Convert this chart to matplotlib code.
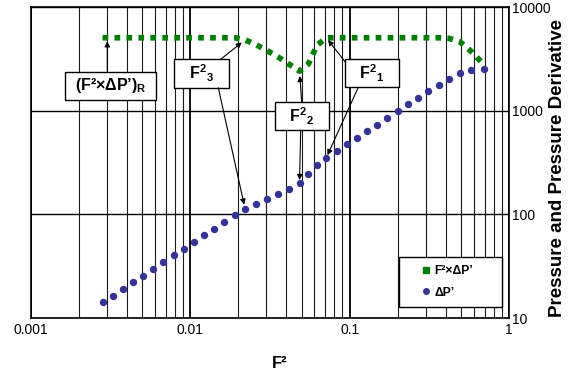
import matplotlib
matplotlib.use("Agg")
import matplotlib.pyplot as plt
from matplotlib.lines import Line2D
from matplotlib.patches import Rectangle
from matplotlib.ticker import LogLocator, FixedLocator, FixedFormatter, NullFormatter

plt.rcParams['font.family'] = ['Liberation Sans', 'DejaVu Sans']
plt.rcParams['mathtext.fontset'] = 'custom'
plt.rcParams['mathtext.rm'] = 'Liberation Sans:bold'
plt.rcParams['mathtext.it'] = 'Liberation Sans:bold'
plt.rcParams['mathtext.bf'] = 'Liberation Sans:bold'

# data
f2 = [0.00282, 0.00328, 0.00379, 0.00438, 0.00508, 0.00587, 0.00678, 0.00788,
      0.00910, 0.01056, 0.01222, 0.01417, 0.01637, 0.01901, 0.02206, 0.02576,
      0.03032, 0.03568, 0.04180, 0.04842, 0.05497, 0.06233, 0.07130, 0.08285,
      0.0961, 0.1111, 0.1285, 0.1491, 0.1722, 0.2000, 0.2321, 0.2693,
      0.3111, 0.3614, 0.4194, 0.4898, 0.5741, 0.6920]
dp = [14.2, 16.4, 19.1, 22.1, 25.6, 29.9, 34.7, 40.3,
      46.7, 54.2, 62.8, 72.8, 85.1, 98.7, 113.5, 126,
      141, 157, 177, 202, 247, 298, 353, 409,
      478, 550, 638, 734, 858, 988, 1155, 1330,
      1543, 1786, 2042, 2333, 2460, 2533]
f2dp = [5080, 5080, 5080, 5080, 5080, 5080, 5080, 5080,
        5080, 5080, 5080, 5080, 5080, 5080, 4850, 4370,
        3820, 3300, 2810, 2420, 2830, 4300, 5080, 5080,
        5080, 5080, 5080, 5080, 5080, 5080, 5080, 5080,
        5080, 5080, 5010, 4650, 3780, 2800]

xticks = [0.001, 0.01, 0.1, 1]
xtick_labels = ['0.001', '0.01', '0.1', '1']
yticks = [10, 100, 1000, 10000]
ytick_labels = ['10', '100', '1000', '10000']

green = '#008000'
blue = '#333399'

W, H = 574, 375
fig = plt.figure(figsize=(W / 100, H / 100), dpi=100)
L, R, T, B = 30.7, 509.3, 7.3, 318
ax = fig.add_axes([L / W, 1 - B / H, (R - L) / W, (B - T) / H])


def fp(px, py):
    # pixel (from top-left) -> figure fraction
    return (px / W, 1 - py / H)


ax.set_xscale('log')
ax.set_yscale('log')
ax.set_xlim(0.001, 1)
ax.set_ylim(10, 10000)

ax.xaxis.set_major_locator(FixedLocator(xticks))
ax.xaxis.set_major_formatter(FixedFormatter(xtick_labels))
ax.xaxis.set_minor_locator(LogLocator(base=10, subs=range(2, 10)))
ax.xaxis.set_minor_formatter(NullFormatter())
ax.yaxis.set_major_locator(FixedLocator(yticks))
ax.yaxis.set_major_formatter(FixedFormatter(ytick_labels))
ax.yaxis.set_minor_locator(FixedLocator([]))
ax.yaxis.tick_right()
ax.tick_params(which='both', length=0, labelsize=10)
ax.tick_params(axis='x', pad=3.5)
ax.tick_params(axis='y', pad=2)

ax.set_axisbelow(True)
ax.grid(which='major', axis='x', color='black', lw=1.3)
ax.grid(which='minor', axis='x', color='#1a1a1a', lw=0.8)
ax.grid(which='major', axis='y', color='black', lw=1.0)
for s in ax.spines.values():
    s.set_linewidth(1.2)

ax.plot(f2, f2dp, color=green, lw=4.1, linestyle=(0, (1, 1.1)),
        dash_capstyle='butt', zorder=3)
ax.plot(f2, dp, ls='none', marker='o', markersize=4.3, color=blue, zorder=4)

fig.text(280 / W, 1 - 364 / H, 'F²', fontsize=12, fontweight='bold',
         ha='center', va='center')
fig.text(558 / W, 1 - 168 / H, 'Pressure and Pressure Derivative',
         fontsize=13.5, fontweight='bold', rotation=90, ha='center', va='center')

# annotation boxes
boxes = [
    ((65, 71.7, 156, 100), "(F²×ΔP’)$_{R}$"),
    ((174.3, 59.3, 229.3, 87.7), r"$F^{2}{}_{3}$"),
    ((275, 102.3, 329.3, 130), r"$F^{2}{}_{2}$"),
    ((345, 59.3, 399, 87.3), r"$F^{2}{}_{1}$"),
]
for (x0, y0, x1, y1), txt in boxes:
    ax.add_patch(Rectangle(fp(x0, y1), (x1 - x0) / W, (y1 - y0) / H,
                           transform=fig.transFigure, clip_on=False,
                           fc='white', ec='black', lw=1.0, zorder=6))
    ax.text((x0 + x1) / 2 / W, 1 - (y0 + y1) / 2 / H, txt,
            transform=fig.transFigure, ha='center', va='center',
            fontsize=11.5, fontweight='bold', zorder=7)

arrows = [
    ((107.3, 71.7), (0.00302, f2dp[0]), 2.5),
    ((220.7, 59.3), (f2[14], f2dp[14]), 3),
    ((218.3, 87.7), (f2[14], dp[14]), 3),
    ((301.7, 102.3), (f2[19], f2dp[19]), 3.5),
    ((300.7, 130), (f2[19], dp[19]), 2),
    ((345, 61.7), (f2[22], f2dp[22]), 2),
    ((358.3, 87.3), (f2[22], dp[22]), 2),
]
for start, target, shr in arrows:
    ax.annotate('', xy=target, xycoords='data', xytext=fp(*start),
                textcoords='figure fraction', zorder=8,
                arrowprops=dict(arrowstyle='-|>', color='black', lw=0.8,
                                mutation_scale=8, shrinkA=0, shrinkB=shr))

# legend
ax.add_patch(Rectangle(fp(399, 307), 103 / W, 50 / H, transform=fig.transFigure,
                       clip_on=False, fc='white', ec='black', lw=1.0, zorder=6))
handles = [Line2D([], [], ls='none', marker='s', markersize=4.5, color=green),
           Line2D([], [], ls='none', marker='o', markersize=4, color=blue)]
leg = ax.legend(handles, ['F²×ΔP’', 'ΔP’'], loc='upper left',
                bbox_to_anchor=fp(420.7, 265.5), bbox_transform=fig.transFigure,
                frameon=False, borderpad=0, borderaxespad=0, handlelength=0.8,
                handletextpad=0.35, labelspacing=0.75,
                prop=dict(weight='bold', size=8.7))
leg.set_zorder(7)

fig.savefig('out.png', dpi=100)
